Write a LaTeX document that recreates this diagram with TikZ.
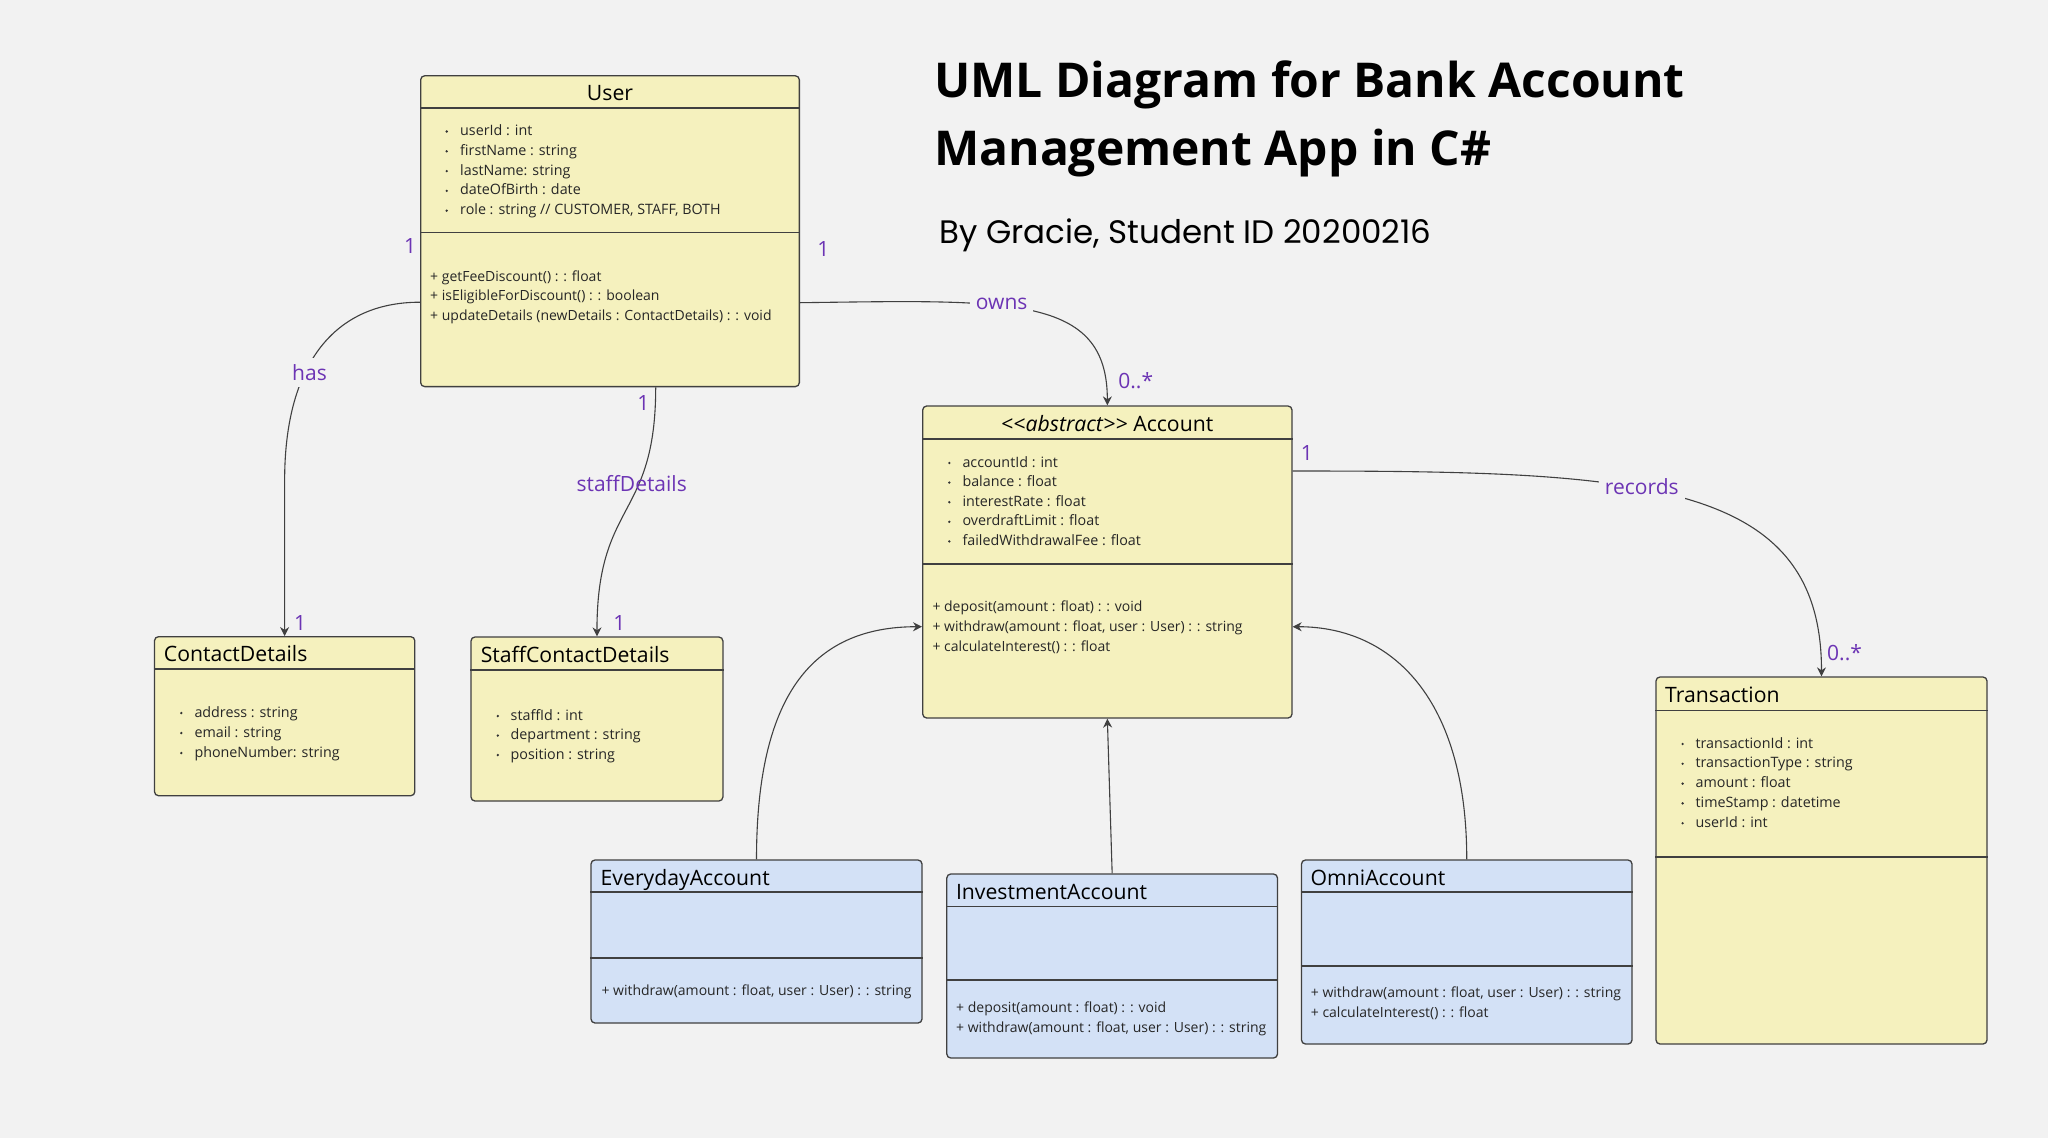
\documentclass[tikz,border=0pt]{standalone}
\usepackage{fontspec}
\setmainfont{Open Sans}
\newfontfamily\subfont{Poppins}
\usetikzlibrary{positioning, arrows.meta}

\definecolor{bggray}{RGB}{242,242,242}
\definecolor{umlyellow}{RGB}{245,241,190}
\definecolor{umlblue}{RGB}{211,225,246}
\definecolor{boxline}{RGB}{64,64,64}
\definecolor{multcol}{RGB}{108,52,180}

\begin{document}
\begin{tikzpicture}[x=1pt,y=-1pt,
    classbox/.style={draw=boxline,line width=1.3pt,rounded corners=4pt,inner sep=0pt},
    yellowbox/.style={classbox,fill=umlyellow},
    bluebox/.style={classbox,fill=umlblue},
    headtext/.style={font=\fontsize{21.2}{25}\selectfont,inner sep=0pt,anchor=base west},
    member/.style={font=\fontsize{14.3}{20}\selectfont,inner sep=0pt,anchor=base west,text=black!85},
    operation/.style={member,font=\fontsize{14}{20}\selectfont},
    mult/.style={font=\fontsize{21}{25}\selectfont,text=multcol,inner sep=1pt},
    rolelabel/.style={mult,fill=bggray,inner sep=6pt},
    titletext/.style={font=\fontsize{48}{56}\selectfont\bfseries,inner sep=0pt,anchor=base west},
    subtext/.style={font=\subfont\fontsize{32.5}{38}\selectfont,inner sep=0pt,anchor=base west},
    assoc/.style={draw=boxline,line width=1.1pt,-{Stealth[length=9pt,width=9pt]}}]
  \fill[bggray] (0,0) rectangle (2048,1138);
  \useasboundingbox (0,0) rectangle (2048,1138);

  % title
  \node[titletext] (title1) at (934,97) {UML Diagram for Bank Account};
  \node[titletext] (title2) at (934,165) {Management App in C\#};
  \node[subtext] (byline) at (939,243.3) {By Gracie, Student ID 20200216};

  % classes
  \node[yellowbox,minimum width=378.7pt,minimum height=310.8pt] (user) at (610,231.2) {};
  \node[yellowbox,minimum width=369.3pt,minimum height=312pt] (account) at (1107.35,562) {};
  \node[yellowbox,minimum width=260.3pt,minimum height=159pt] (contact) at (284.65,716.2) {};
  \node[yellowbox,minimum width=251.9pt,minimum height=164pt] (staff) at (596.95,719) {};
  \node[yellowbox,minimum width=331pt,minimum height=367pt] (transaction) at (1821.5,860.5) {};
  \node[bluebox,minimum width=331pt,minimum height=163pt] (everyday) at (756.5,941.5) {};
  \node[bluebox,minimum width=330.7pt,minimum height=184pt] (investment) at (1112.15,966) {};
  \node[bluebox,minimum width=330.5pt,minimum height=184pt] (omni) at (1466.75,952) {};

  \foreach \b/\y in {user/108,user/232.5,account/439,account/564,contact/669,staff/670,
      transaction/710.7,transaction/857,everyday/892,everyday/958,
      investment/906.7,investment/980,omni/892,omni/966}
    \draw[boxline,line width=1.3pt] (\b.west |- 0,\y) -- (\b.east |- 0,\y);

  % headers
  \node[headtext,anchor=base] (userhead) at (610,100.8) {User};
  \node[headtext,anchor=base] (accounthead) at (1107.35,431.5) {<\kern0pt<\textit{abstract}>\kern0pt> Account};
  \node[headtext] (contacthead) at (163.7,661.9) {ContactDetails};
  \node[headtext] (staffhead) at (480.6,662.5) {StaffContactDetails};
  \node[headtext] (transactionhead) at (1665,702.9) {Transaction};
  \node[headtext] (everydayhead) at (600.5,885) {EverydayAccount};
  \node[headtext] (investmenthead) at (955.8,899.4) {InvestmentAccount};
  \node[headtext] (omnihead) at (1310.5,885) {OmniAccount};

  % attributes
  \foreach \t [count=\i from 0] in {userId : int, firstName : string, lastName: string,
      dateOfBirth : date, {role : string // CUSTOMER, STAFF, BOTH}} {
    \fill[black!80] (446.7,131.5+19.8*\i) circle (1.3pt);
    \node[member] (ua\i) at (460,135.5+19.8*\i) {\t};
  }
  \foreach \t [count=\i from 0] in {accountId : int, balance : float, interestRate : float,
      overdraftLimit : float, failedWithdrawalFee : float} {
    \fill[black!80] (949.3,463+19.6*\i) circle (1.3pt);
    \node[member] (aa\i) at (962.3,467+19.6*\i) {\t};
  }
  \foreach \t [count=\i from 0] in {address : string, email : string, phoneNumber: string} {
    \fill[black!80] (181.3,713+20*\i) circle (1.3pt);
    \node[member] (ca\i) at (194.3,717+20*\i) {\t};
  }
  \foreach \t [count=\i from 0] in {staffId : int, department : string, position : string} {
    \fill[black!80] (497.8,716+19.5*\i) circle (1.3pt);
    \node[member] (sa\i) at (510.5,720+19.5*\i) {\t};
  }
  \foreach \t [count=\i from 0] in {transactionId : int, transactionType : string,
      amount : float, timeStamp : datetime, userId : int} {
    \fill[black!80] (1682.6,744+19.8*\i) circle (1.3pt);
    \node[member] (ta\i) at (1695.4,748+19.8*\i) {\t};
  }

  % operations
  \foreach \t [count=\i from 0] in {+ getFeeDiscount() : : float, + isEligibleForDiscount() : : boolean,
      + updateDetails (newDetails : ContactDetails) : : void}
    \node[operation] (uo\i) at (430,281+19.6*\i) {\t};
  \foreach \t [count=\i from 0] in {+ deposit(amount : float) : : void,
      {+ withdraw(amount : float, user : User) : : string}, + calculateInterest() : : float}
    \node[operation] (ao\i) at (932.3,611+20*\i) {\t};
  \node[operation] (eo0) at (601.3,995.5) {+ withdraw(amount : float, user : User) : : string};
  \foreach \t [count=\i from 0] in {+ deposit(amount : float) : : void,
      {+ withdraw(amount : float, user : User) : : string}}
    \node[operation] (io\i) at (956,1012+20*\i) {\t};
  \foreach \t [count=\i from 0] in {{+ withdraw(amount : float, user : User) : : string},
      + calculateInterest() : : float}
    \node[operation] (oo\i) at (1310.7,997.5+20*\i) {\t};

  % associations
  \draw[assoc] ([yshift=-71pt]user.west) .. controls +(-90,0) and +(0,-110) .. (contact.north |- 0,480) -- (contact.north);
  \draw[assoc] ([xshift=45.7pt]user.south) .. controls +(0,133) and +(0,-137) .. (staff.north);
  \draw[assoc] ([yshift=-71.5pt]user.east) .. controls (1010,300) and +(0,-111) .. (account.north);
  \draw[assoc] ([yshift=91pt]account.east) .. controls (1640,471) and +(0,-197) .. (transaction.north);

  % inheritance
  \draw[assoc] (everyday.north) .. controls +(0,-160) and +(-112.7,0) .. ([yshift=-64.7pt]account.west);
  \draw[assoc] (investment.north) -- (account.south);
  \draw[assoc] (omni.north) .. controls +(0,-160) and +(100,0) .. ([yshift=-64.7pt]account.east);

  % labels
  \node[rolelabel] (has) at (309.5,372.5) {has};
  \node[mult] (staffdet) at (631.7,484) {staffDetails};
  \node[rolelabel] (owns) at (1001.7,304.3) {owns};
  \node[rolelabel] (records) at (1641.8,486.5) {records};

  \node[mult] (m1) at (410,246) {1};
  \node[mult] (m2) at (300,622.7) {1};
  \node[mult] (m3) at (643.3,403.3) {1};
  \node[mult] (m4) at (619.3,622.7) {1};
  \node[mult] (m5) at (823.3,249) {1};
  \node[mult] (m6) at (1135.7,381) {0..*};
  \node[mult] (m7) at (1306.9,453.3) {1};
  \node[mult] (m8) at (1844.6,653) {0..*};
\end{tikzpicture}
\end{document}
